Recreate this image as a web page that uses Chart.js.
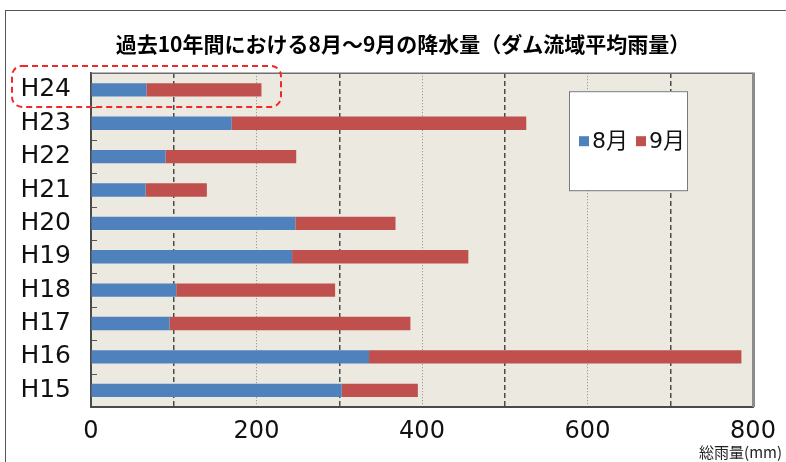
<!DOCTYPE html>
<html><head><meta charset="utf-8">
<script src="https://cdn.jsdelivr.net/npm/chart.js@4.4.0/dist/chart.umd.min.js"></script>
<style>
html,body{margin:0;padding:0;background:#fff;}
#wrap{position:relative;width:786px;height:462px;overflow:hidden;}
#frame{position:absolute;left:5px;top:10px;width:900px;height:600px;border:1px solid #555;}
canvas{position:absolute;left:0;top:0;}
</style></head><body>
<div id="wrap"><div id="frame"></div><canvas id="c" width="786" height="462"></canvas></div>
<script>
const categories = ['H24','H23','H22','H21','H20','H19','H18','H17','H16','H15'];
const august = [67,170,90,66,247,243,103,95,336,303];
const september = [139,356,158,74,121,213,192,291,450,92];
const xTicks = [0,200,400,600,800];
const seriesNames = ['8月','9月'];
const seriesColors = ['#4F81BD','#C0504D'];
const chartTitle = '過去10年間における8月～9月の降水量（ダム流域平均雨量）';
const axisUnit = '総雨量(mm)';

const LATIN = "'DejaVu Sans', 'Noto Sans CJK JP', sans-serif";
Chart.defaults.font.family = LATIN;

const plotFrame = {
  id: 'plotFrame',
  beforeDraw(chart) {
    const {ctx, chartArea: a} = chart;
    ctx.save();
    ctx.fillStyle = '#ECE9E0';
    ctx.fillRect(a.left, a.top, a.width, a.height);
    ctx.restore();
  },
  afterDraw(chart) {
    const {ctx, chartArea: a} = chart;
    const y = chart.scales.y;
    ctx.save();
    // top & right borders
    ctx.strokeStyle = '#6e6e6e'; ctx.lineWidth = 1.5;
    ctx.beginPath(); ctx.moveTo(a.left, a.top); ctx.lineTo(a.right, a.top); ctx.stroke();
    ctx.strokeStyle = '#8c8c8c'; ctx.lineWidth = 3;
    ctx.beginPath(); ctx.moveTo(a.right + 0.5, a.top - 0.75); ctx.lineTo(a.right + 0.5, a.bottom); ctx.stroke();
    // category boundary ticks (inside)
    ctx.strokeStyle = '#555'; ctx.lineWidth = 1;
    for (let i = 0; i < categories.length - 1; i++) {
      const py = Math.round((y.getPixelForValue(i) + y.getPixelForValue(i + 1)) / 2) + 0.5;
      ctx.beginPath(); ctx.moveTo(a.left, py); ctx.lineTo(a.left + 6, py); ctx.stroke();
    }
    // legend box
    const lx = a.left + 478, ly = a.top + 18, lw = 118, lh = 99;
    ctx.fillStyle = '#fff'; ctx.fillRect(lx, ly, lw, lh);
    ctx.strokeStyle = '#7a7a7a'; ctx.lineWidth = 1;
    ctx.strokeRect(lx + 0.5, ly + 0.5, lw, lh);
    ctx.font = "22px " + LATIN;
    ctx.textBaseline = 'middle'; ctx.textAlign = 'left';
    let cx = lx + 10;
    const cy = ly + 50;
    chart.data.datasets.forEach((ds) => {
      ctx.fillStyle = ds.backgroundColor;
      ctx.fillRect(cx, cy - 5, 10, 10);
      ctx.fillStyle = '#111';
      ctx.fillText(ds.label, cx + 13, cy + 1);
      cx += 13 + ctx.measureText(ds.label).width + 8;
    });
    // axis unit
    ctx.font = "15px 'Noto Sans CJK JP', sans-serif";
    ctx.textAlign = 'right'; ctx.fillStyle = '#222';
    ctx.fillText(axisUnit, a.right + 29, 452);
    // highlight for first category
    const hy = y.getPixelForValue(0);
    ctx.strokeStyle = '#F02828'; ctx.lineWidth = 2; ctx.setLineDash([6, 4]);
    ctx.beginPath();
    ctx.roundRect(12, hy - 24, 269, 41, 10);
    ctx.stroke();
    ctx.restore();
  }
};

new Chart(document.getElementById('c'), {
  type: 'bar',
  data: {
    labels: categories,
    datasets: [
      {label: seriesNames[0], data: august, backgroundColor: seriesColors[0], borderWidth: 0},
      {label: seriesNames[1], data: september, backgroundColor: seriesColors[1], borderWidth: 0}
    ]
  },
  options: {
    indexAxis: 'y',
    responsive: false,
    animation: false,
    layout: {padding: {left: 20, right: 0, top: 0, bottom: 0}},
    datasets: {bar: {categoryPercentage: 1, barPercentage: 0.4}},
    plugins: {
      legend: {display: false},
      tooltip: {enabled: false},
      title: {
        display: true, text: chartTitle, color: '#000',
        font: {family: "'Noto Sans CJK JP', sans-serif", size: 21, weight: 'bold'},
        padding: {top: 31, bottom: 17}
      }
    },
    scales: {
      x: {
        stacked: true, min: 0, max: 800, position: 'bottom',
        afterBuildTicks: (s) => { s.ticks = xTicks.map(v => ({value: v})); },
        ticks: {font: {size: 24}, color: '#111', padding: 10, maxRotation: 0, autoSkip: false},
        grid: {
          color: (c) => (c.tick && (c.tick.value === 0 || c.tick.value === 800)) ? 'rgba(0,0,0,0)' : '#8a8a8a',
          lineWidth: 1, drawTicks: false
        },
        border: {display: true, color: '#4a4a4a', width: 2, dash: [1, 2]},
        afterFit: (s) => { s.height = 55; }
      },
      x2: {
        type: 'linear', axis: 'x', position: 'top', min: 0, max: 800,
        ticks: {display: false, stepSize: 100},
        grid: {
          color: (c) => (c.tick && c.tick.value % 200 !== 0) ? '#4a4a4a' : 'rgba(0,0,0,0)',
          lineWidth: 1.5, drawTicks: false
        },
        border: {display: false, dash: [5, 3]},
        afterFit: (s) => { s.height = 0; }
      },
      y: {
        stacked: true,
        ticks: {font: {size: 25}, color: '#111', padding: 12},
        grid: {display: false},
        border: {display: true, color: '#4a4a4a', width: 2},
        afterFit: (s) => { s.width = 71; }
      },
      yRight: {
        type: 'linear', axis: 'y', position: 'right',
        ticks: {display: false},
        grid: {display: false},
        border: {display: false},
        afterFit: (s) => { s.width = 33; }
      }
    }
  },
  plugins: [plotFrame]
});
</script>
</body></html>
